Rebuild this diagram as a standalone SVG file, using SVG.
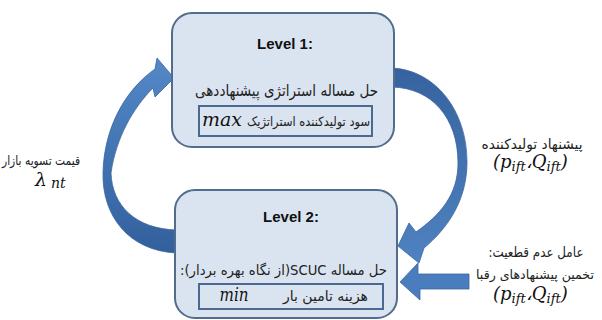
<svg xmlns="http://www.w3.org/2000/svg" width="602" height="320" viewBox="0 0 602 320">
<defs>
<linearGradient id="gL" x1="0" y1="0" x2="0" y2="1">
<stop offset="0" stop-color="#5388c6"/>
<stop offset="1" stop-color="#32609d"/>
</linearGradient>
<linearGradient id="gR" x1="0" y1="0" x2="0" y2="1">
<stop offset="0" stop-color="#36639f"/>
<stop offset="1" stop-color="#4f82c1"/>
</linearGradient>
<style>
.box{fill:#dae4f1;stroke:#526c8d;stroke-width:2}
.inner{fill:#dae4f1;stroke:#4a6890;stroke-width:2}
.arrow{stroke:#3a66a0;stroke-width:0.8}
.lvl{font-family:"Liberation Sans",Arial,sans-serif;font-weight:bold;font-size:15px;fill:#111}
.fa{font-family:"DejaVu Sans","Noto Sans",sans-serif;fill:#222}
.math{font-family:"DejaVu Serif","Liberation Serif",serif;font-style:italic;fill:#111}
</style>
</defs>
<rect width="602" height="320" fill="#ffffff"/>
<g id="connectors">
<path id="arrow-left" class="arrow" fill="url(#gL)" d="M177,253 C128,251 102,215 103,173 C104,128 125,90 155,69 L157,58 L174,78 L155,97 L153,88 C133,108 116,138 111,173 C112,205 135,229 177,230 Z"/>
<path id="arrow-right" class="arrow" fill="url(#gR)" d="M392,68 C435,70 467,110 467,162 C467,200 448,228 424,248 L419,263 L398,246 L409,223 L416,232 C440,215 458,195 458,163 C458,118 432,88 392,87 Z"/>
<path id="arrow-straight" class="arrow" fill="#4a7dbd" d="M469,274 L418,274 L418,263 L400,282 L420,300 L420,289 L469,289 Z"/>
</g>
<g id="level1">
<rect class="box" x="172" y="13" width="222" height="134" rx="20"/>
<text class="lvl" x="285" y="49" text-anchor="middle">Level 1:</text>
<text class="fa" x="286.5" y="96" font-size="16" text-anchor="middle" direction="rtl" textLength="183" lengthAdjust="spacingAndGlyphs">حل مساله استراتژی پیشنهاددهی</text>
<rect class="inner" x="199" y="106" width="173" height="30"/>
<text class="fa" x="308.5" y="126" font-size="13" text-anchor="middle" direction="rtl" textLength="123" lengthAdjust="spacingAndGlyphs">سود تولیدکننده استراتژیک</text>
<text class="math" x="222" y="126" font-size="18" text-anchor="middle" textLength="40" lengthAdjust="spacingAndGlyphs">max</text>
</g>
<g id="level2">
<rect class="box" x="175" y="190" width="222" height="128" rx="20"/>
<text class="lvl" x="291" y="222" text-anchor="middle">Level 2:</text>
<text class="fa" x="283.5" y="275" font-size="14" text-anchor="middle" direction="rtl" textLength="207" lengthAdjust="spacingAndGlyphs">حل مساله  SCUC(از نگاه بهره بردار):</text>
<rect class="inner" x="199" y="284" width="184" height="25"/>
<text class="fa" x="325.5" y="301" font-size="14" text-anchor="middle" direction="rtl" textLength="85" lengthAdjust="spacingAndGlyphs">هزینه تامین بار</text>
<text class="math" x="234" y="301" font-size="18" text-anchor="middle" textLength="29" lengthAdjust="spacingAndGlyphs">min</text>
</g>
<g id="label-left">
<text class="fa" x="41" y="165" font-size="13" text-anchor="middle" direction="rtl" textLength="78" lengthAdjust="spacingAndGlyphs">قیمت تسویه بازار</text>
<text class="math" x="35" y="186" font-size="19">λ<tspan font-size="14" dx="4" dy="2">nt</tspan></text>
</g>
<g id="label-right-top">
<text class="fa" x="532" y="149" font-size="14" text-anchor="middle" direction="rtl" textLength="101" lengthAdjust="spacingAndGlyphs">پیشنهاد تولیدکننده</text>
<text class="math" x="493" y="168" font-size="18" direction="ltr">(p<tspan font-size="13" dy="3">ift</tspan><tspan dy="-3">،Q</tspan><tspan font-size="13" dy="3">ift</tspan><tspan dy="-3">)</tspan></text>
</g>
<g id="label-right-bottom">
<text class="fa" x="536" y="257" font-size="14" text-anchor="middle" direction="rtl" textLength="95" lengthAdjust="spacingAndGlyphs">عامل عدم قطعیت:</text>
<text class="fa" x="535" y="279" font-size="13" text-anchor="middle" direction="rtl" textLength="118" lengthAdjust="spacingAndGlyphs">تخمین پیشنهادهای رقبا</text>
<text class="math" x="493" y="300" font-size="18" direction="ltr">(p<tspan font-size="13" dy="3">ift</tspan><tspan dy="-3">،Q</tspan><tspan font-size="13" dy="3">ift</tspan><tspan dy="-3">)</tspan></text>
</g>
</svg>
